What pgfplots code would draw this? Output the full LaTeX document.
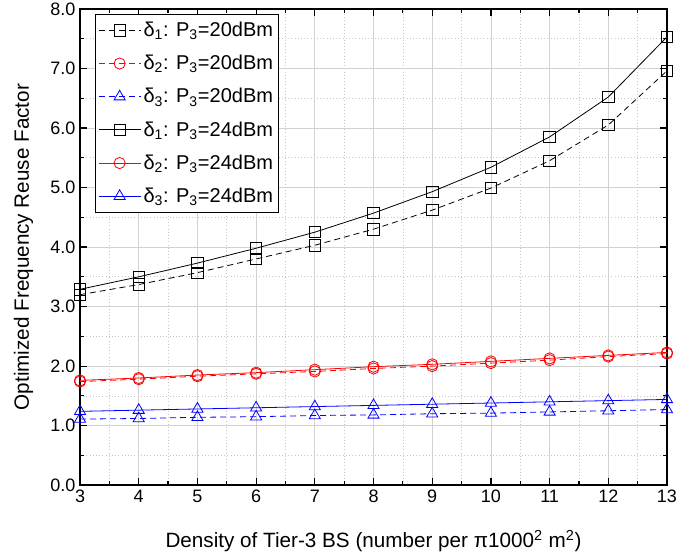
\documentclass[border=0pt]{standalone}
\usepackage{fontspec}
\setmainfont{Liberation Sans}
\usepackage{pgfplots}
\pgfplotsset{compat=1.18}

\begin{document}
\begin{tikzpicture}
\begin{axis}[
    scale only axis,
    width=440pt,
    height=357pt,
    xmin=3, xmax=13,
    ymin=0, ymax=8,
    xtick={3,...,13},
    ytick={0,1,...,8},
    minor x tick num=1,
    minor y tick num=1,
    tick align=inside,
    major tick length=5pt,
    minor tick length=3pt,
    every tick/.style={black, line width=0.9pt},
    axis line style={line width=1.3pt},
    grid=both,
    major grid style={gray!35, line width=0.6pt},
    minor grid style={gray!45, dotted, line width=0.5pt},
    yticklabel style={/pgf/number format/.cd, fixed, fixed zerofill, precision=1},
    /pgf/number format/assume math mode=true,
    tick label style={font=\fontsize{13.5}{15}\selectfont},
    xlabel={Density of Tier-3 BS (number per π1000\textsuperscript{2} m\textsuperscript{2})},
    ylabel={Optimized Frequency Reuse Factor},
    label style={font=\fontsize{15.5}{18}\selectfont},
    xlabel style={yshift=-14pt},
    ylabel style={yshift=6pt},
    legend style={at={(0.026,0.99)}, anchor=north west, draw=black, line width=0.6pt,
        fill=white, font=\fontsize{15}{18}\selectfont, row sep=8.5pt,
        inner xsep=2pt, inner ysep=4pt},
    legend cell align=left,
    legend image code/.code={
        \draw[mark repeat=2,mark phase=2,#1] plot coordinates {(0cm,0cm) (0.55cm,0cm) (1.1cm,0cm)};
    },
]
% P3 = 20 dBm (dashed)
\addplot[black, dash pattern=on 4.5pt off 3pt, line width=0.6pt, mark=square, mark size=4.3pt, mark options={solid, line width=0.6pt}] coordinates {
    (3,3.20) (4,3.37) (5,3.57) (6,3.80) (7,4.03) (8,4.30) (9,4.62) (10,4.99) (11,5.45) (12,6.05) (13,6.96)
};
\addplot[red, dash pattern=on 4.5pt off 3pt, line width=0.6pt, mark=o, mark size=4.2pt, mark options={solid, line width=0.6pt}] coordinates {
    (3,1.74) (4,1.78) (5,1.83) (6,1.87) (7,1.91) (8,1.96) (9,2.00) (10,2.05) (11,2.10) (12,2.16) (13,2.21)
};
\addplot[blue, dash pattern=on 4.5pt off 3pt, line width=0.6pt, mark=triangle, mark size=4.8pt, mark options={solid, line width=0.6pt}] coordinates {
    (3,1.11) (4,1.12) (5,1.14) (6,1.15) (7,1.17) (8,1.18) (9,1.20) (10,1.21) (11,1.23) (12,1.25) (13,1.27)
};
% P3 = 24 dBm (solid)
\addplot[black, line width=0.6pt, mark=square, mark size=4.3pt, mark options={line width=0.6pt}] coordinates {
    (3,3.29) (4,3.50) (5,3.73) (6,3.98) (7,4.25) (8,4.57) (9,4.93) (10,5.34) (11,5.85) (12,6.52) (13,7.53)
};
\addplot[red, line width=0.6pt, mark=o, mark size=4.2pt, mark options={line width=0.6pt}] coordinates {
    (3,1.76) (4,1.80) (5,1.85) (6,1.89) (7,1.94) (8,1.99) (9,2.03) (10,2.08) (11,2.13) (12,2.18) (13,2.23)
};
\addplot[blue, line width=0.6pt, mark=triangle, mark size=4.8pt, mark options={line width=0.6pt}] coordinates {
    (3,1.24) (4,1.26) (5,1.28) (6,1.30) (7,1.32) (8,1.34) (9,1.36) (10,1.38) (11,1.40) (12,1.42) (13,1.44)
};
\legend{
    δ\textsubscript{1}: P\textsubscript{3}=20dBm,
    δ\textsubscript{2}: P\textsubscript{3}=20dBm,
    δ\textsubscript{3}: P\textsubscript{3}=20dBm,
    δ\textsubscript{1}: P\textsubscript{3}=24dBm,
    δ\textsubscript{2}: P\textsubscript{3}=24dBm,
    δ\textsubscript{3}: P\textsubscript{3}=24dBm
}
\end{axis}
\pgfresetboundingbox
\path[use as bounding box] ([xshift=-60pt,yshift=-55pt]current axis.south west)
    rectangle ([xshift=22.5pt,yshift=6.7pt]current axis.north east);
\end{tikzpicture}
\end{document}
